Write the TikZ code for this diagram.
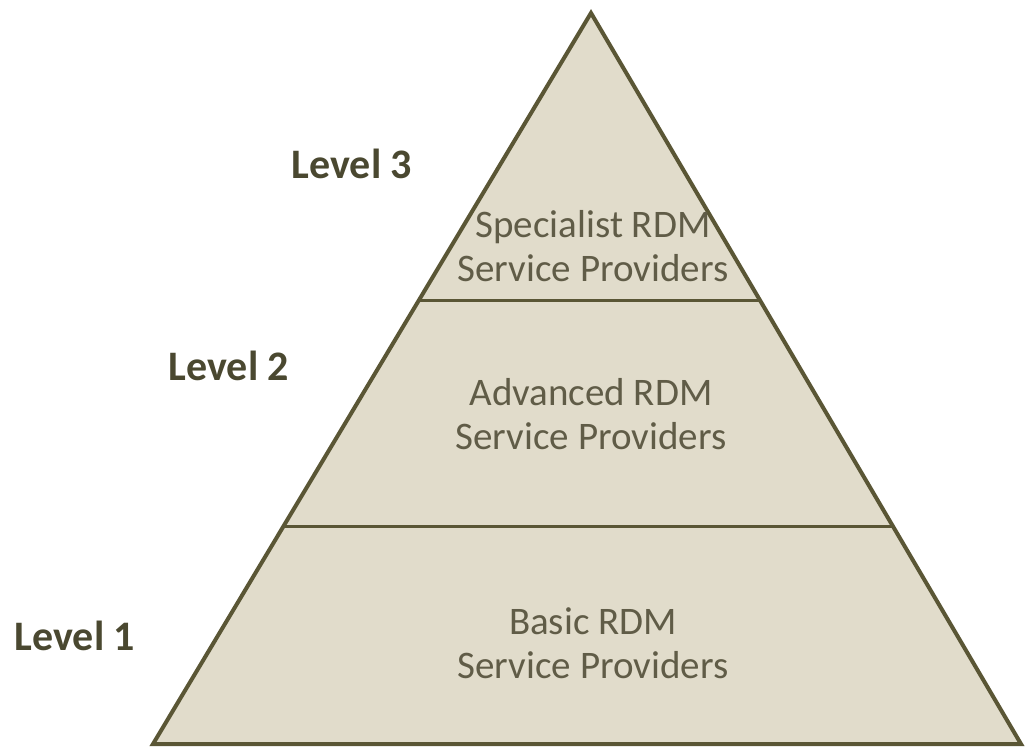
\documentclass[tikz,border=0pt]{standalone}
\usepackage{fontspec}
\setmainfont{Carlito}
\usetikzlibrary{calc}
\definecolor{paper}{HTML}{E1DCCB}
\definecolor{olive}{HTML}{5A5635}
\definecolor{ink}{HTML}{4A4830}
\definecolor{softink}{HTML}{605C47}
\tikzset{
  level/.style={font=\fontsize{42}{46}\selectfont\bfseries, text=ink},
  tier/.style={font=\fontsize{39}{44}\selectfont, text=softink, align=center},
  divider/.style={draw=olive, line width=3pt}
}
\begin{document}
\begin{tikzpicture}[x=1pt,y=-1pt]
\useasboundingbox (0,0) rectangle (1026,751);
\coordinate (top) at (591,13);
\coordinate (bl) at (153,744);
\coordinate (br) at (1021,744);
\filldraw[fill=paper, draw=olive, line width=4pt] (top) -- (bl) -- (br) -- cycle;
% tiers
\coordinate (d1l) at ($(top)!0.3936!(bl)$);
\coordinate (d1r) at ($(top)!0.3936!(br)$);
\coordinate (d2l) at ($(top)!0.7031!(bl)$);
\coordinate (d2r) at ($(top)!0.7031!(br)$);
\draw[divider] (d1l) -- (d1r);
\draw[divider] (d2l) -- (d2r);
\node[tier] (specialist) at (593,246) {Specialist RDM\\Service Providers};
\node[tier] (advanced) at (591,414) {Advanced RDM\\Service Providers};
\node[tier] (basic) at (593,643) {Basic RDM\\Service Providers};
\node[level] (lvl3) at (352,164) {Level 3};
\node[level] (lvl2) at (229,366) {Level 2};
\node[level] (lvl1) at (75,636) {Level 1};
\end{tikzpicture}
\end{document}
